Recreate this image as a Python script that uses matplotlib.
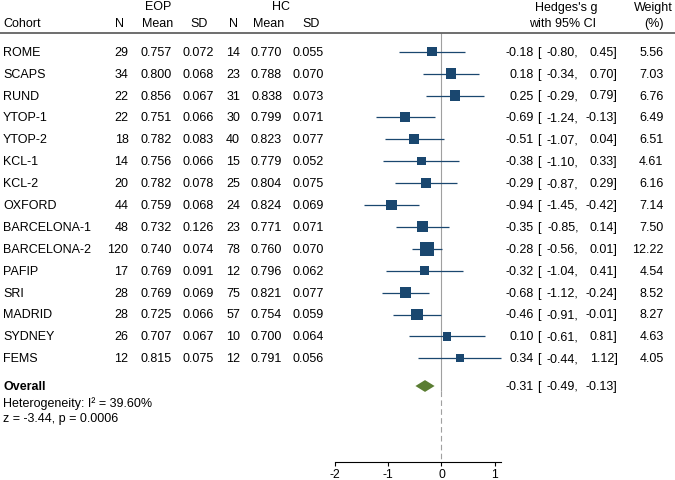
import matplotlib
matplotlib.use("Agg")
import matplotlib.pyplot as plt
from matplotlib.transforms import blended_transform_factory
from matplotlib.patches import Polygon
import numpy as np

plt.rcParams["font.family"] = ["Liberation Sans", "DejaVu Sans"]

# data
cohorts = ["ROME", "SCAPS", "RUND", "YTOP-1", "YTOP-2", "KCL-1", "KCL-2", "OXFORD",
           "BARCELONA-1", "BARCELONA-2", "PAFIP", "SRI", "MADRID", "SYDNEY", "FEMS"]
eop_n = [29, 34, 22, 22, 18, 14, 20, 44, 48, 120, 17, 28, 28, 26, 12]
eop_mean = [0.757, 0.800, 0.856, 0.751, 0.782, 0.756, 0.782, 0.759, 0.732, 0.740,
            0.769, 0.769, 0.725, 0.707, 0.815]
eop_sd = [0.072, 0.068, 0.067, 0.066, 0.083, 0.066, 0.078, 0.068, 0.126, 0.074,
          0.091, 0.069, 0.066, 0.067, 0.075]
hc_n = [14, 23, 31, 30, 40, 15, 25, 24, 23, 78, 12, 75, 57, 10, 12]
hc_mean = [0.770, 0.788, 0.838, 0.799, 0.823, 0.779, 0.804, 0.824, 0.771, 0.760,
           0.796, 0.821, 0.754, 0.700, 0.791]
hc_sd = [0.055, 0.070, 0.073, 0.071, 0.077, 0.052, 0.075, 0.069, 0.071, 0.070,
         0.062, 0.077, 0.059, 0.064, 0.056]
g = [-0.18, 0.18, 0.25, -0.69, -0.51, -0.38, -0.29, -0.94, -0.35, -0.28,
     -0.32, -0.68, -0.46, 0.10, 0.34]
ci_low = [-0.80, -0.34, -0.29, -1.24, -1.07, -1.10, -0.87, -1.45, -0.85, -0.56,
          -1.04, -1.12, -0.91, -0.61, -0.44]
ci_high = [0.45, 0.70, 0.79, -0.13, 0.04, 0.33, 0.29, -0.42, 0.14, 0.01,
           0.41, -0.24, -0.01, 0.81, 1.12]
weight = [5.56, 7.03, 6.76, 6.49, 6.51, 4.61, 6.16, 7.14, 7.50, 12.22,
          4.54, 8.52, 8.27, 4.63, 4.05]
overall = [-0.31, -0.49, -0.13]
heterogeneity = "Heterogeneity: I² = 39.60%"
z_test = "z = -3.44, p = 0.0006"
xticks = [-2, -1, 0, 1]

navy = "#1a476f"
green = "#5a7d32"
fs = 9.0

W, H = 675, 481
fig = plt.figure(figsize=(W / 100, H / 100), dpi=100)

# forest axes: full width, bottom spine is the x axis
axis_px = 463
ax = fig.add_axes([0, (H - axis_px) / H, 1, axis_px / H])
zero_px, unit_px = 441.5, 53.2
row0_px, row_px = 52.7, 21.9
ax.set_xlim((0 - zero_px) / unit_px, (W - zero_px) / unit_px)
ax.set_ylim((axis_px - row0_px) / row_px, (0 - row0_px) / row_px)

def ypos(px):
    return (px - row0_px) / row_px

rows = np.arange(len(cohorts))
overall_y = ypos(387)

# CI lines and boxes
ax.hlines(rows, ci_low, ci_high, color=navy, lw=0.9, zorder=3)
ax.scatter(g, rows, marker="s", s=np.array(weight) * 8.2, color=navy,
           linewidths=0, zorder=4)

# overall diamond
dh = 0.27
diamond = Polygon([[overall[1], overall_y], [overall[0], overall_y - dh],
                   [overall[2], overall_y], [overall[0], overall_y + dh]],
                  closed=True, color=green, lw=0, zorder=4)
ax.add_patch(diamond)

# null line: solid over the studies, dashed below
ax.vlines(0, ypos(33.5), overall_y + 0.25, color="#a0a0a0", lw=0.8, zorder=2)
ax.vlines(0, overall_y + 0.25, ax.get_ylim()[0], color="#a0a0a0", lw=0.8,
          linestyles=(0, (5, 3)), zorder=2)

# header rule
ax.axhline(ypos(33.5), color="#555555", lw=1.2)

# x axis
for s in ["top", "left", "right"]:
    ax.spines[s].set_visible(False)
ax.spines["bottom"].set_bounds(xticks[0], max(ci_high))
ax.spines["bottom"].set_linewidth(0.8)
ax.set_xticks(xticks)
ax.set_xticklabels([str(t) for t in xticks])
ax.tick_params(axis="x", direction="out", length=3, width=0.8, pad=1, labelsize=8.7)
ax.set_yticks([])

tr = blended_transform_factory(fig.transFigure, ax.transData)

def put(xpx, y, s, ha="right", **kw):
    ax.text(xpx / W, y, s, transform=tr, ha=ha, va="center", fontsize=fs, **kw)

# headers
h1, h2 = ypos(7.5), ypos(24)
put(3, h2, "Cohort", ha="left")
put(158, h1, "EOP", ha="center")
put(281, h1, "HC", ha="center")
for xc, lab in [(120, "N"), (157.5, "Mean"), (199, "SD"),
                (234, "N"), (269, "Mean"), (311, "SD")]:
    put(xc, h2, lab, ha="center")
put(566, h1, "Hedges's g", ha="center")
put(563, h2, "with 95% CI", ha="center")
put(653, h1, "Weight", ha="center")
put(654, h2, "(%)", ha="center")

# table rows
for i in rows:
    put(3, i, cohorts[i], ha="left")
    put(128.5, i, str(eop_n[i]))
    put(172, i, f"{eop_mean[i]:.3f}")
    put(213.5, i, f"{eop_sd[i]:.3f}")
    put(240, i, str(hc_n[i]))
    put(282, i, f"{hc_mean[i]:.3f}")
    put(323.5, i, f"{hc_sd[i]:.3f}")
    put(534, i, f"{g[i]:.2f}")
    put(537.5, i, "[", ha="left")
    put(578.5, i, f"{ci_low[i]:.2f},")
    put(617.5, i, f"{ci_high[i]:.2f}]")
    put(663.5, i, f"{weight[i]:.2f}")

put(3, overall_y, "Overall", ha="left", fontweight="bold")
put(534, overall_y, f"{overall[0]:.2f}")
put(537.5, overall_y, "[", ha="left")
put(578.5, overall_y, f"{overall[1]:.2f},")
put(617.5, overall_y, f"{overall[2]:.2f}]")
put(3, ypos(404), heterogeneity, ha="left")
put(3, ypos(419), z_test, ha="left")

fig.savefig("out.png", dpi=100)
